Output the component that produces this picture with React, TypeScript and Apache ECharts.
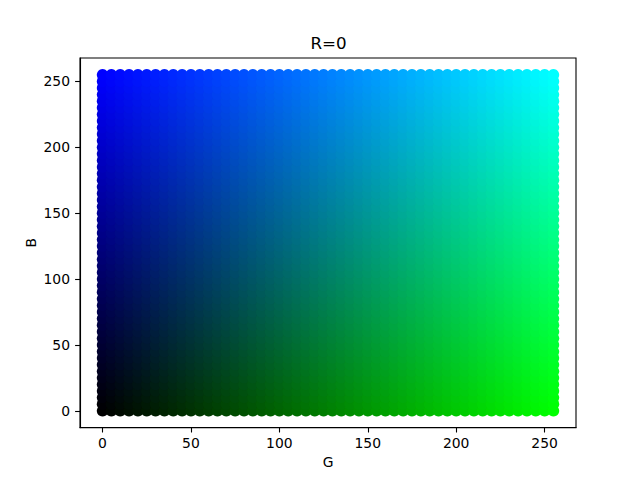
import React, { useEffect, useRef } from "react";
import * as echarts from "echarts";

const gValues = [0,5,10,15,20,25,30,35,40,45,50,55,60,65,70,75,80,85,90,95,100,105,110,115,120,125,130,135,140,145,150,155,160,165,170,175,180,185,190,195,200,205,210,215,220,225,230,235,240,245,250,255];
const bValues = [0,5,10,15,20,25,30,35,40,45,50,55,60,65,70,75,80,85,90,95,100,105,110,115,120,125,130,135,140,145,150,155,160,165,170,175,180,185,190,195,200,205,210,215,220,225,230,235,240,245,250,255];
const tickValues = [0, 50, 100, 150, 200, 250];
const redValue = 0;
const chartTitle = "R=0";
const xName = "G";
const yName = "B";
const FONT = "DejaVu Sans";

function axis(name: string, nameGap: number, labelMargin: number, min: number, max: number) {
  return {
    type: "value" as const,
    name,
    nameLocation: "middle" as const,
    nameGap,
    nameMoveOverlap: false,
    nameTextStyle: { color: "#000", fontFamily: FONT, fontSize: 13.9 },
    min,
    max,
    axisLine: { show: true, onZero: false, lineStyle: { color: "#000", width: 1.1 } },
    axisTick: { show: true, length: 4.9, lineStyle: { color: "#000", width: 1.1 }, customValues: tickValues },
    axisLabel: { show: true, color: "#000", fontFamily: FONT, fontSize: 13.9, margin: labelMargin, customValues: tickValues, hideOverlap: false, showMinLabel: true, showMaxLabel: true },
    splitLine: { show: false },
  };
}

export default function App() {
  const ref = useRef<HTMLDivElement>(null);
  useEffect(() => {
    document.body.style.margin = "0";
    const chart = echarts.init(ref.current!, null, { renderer: "svg" });
    const points: number[][] = [];
    for (const g of gValues) for (const b of bValues) points.push([g, b]);
    chart.setOption({
      animation: false,
      backgroundColor: "#fff",
      title: {
        text: chartTitle,
        left: 305.5,
        top: 29,
        padding: 5,
        textStyle: { color: "#000", fontFamily: FONT, fontSize: 16.7, fontWeight: "normal" },
      },
      grid: { show: true, left: 80, top: 58, width: 496, height: 369.6, borderColor: "#000", borderWidth: 1.1, backgroundColor: "#fff", containLabel: false },
      xAxis: axis(xName, 27, 8.5, -12.75, 267.75),
      yAxis: axis(yName, 42, 10, -12.75, 267.75),
      series: [
        {
          type: "scatter",
          data: points,
          symbol: "circle",
          symbolSize: 11.5,
          silent: true,
          progressive: 0,
          large: false,
          clip: false,
          itemStyle: {
            opacity: 1,
            color: (p: any) => `rgb(${redValue},${p.value[0]},${p.value[1]})`,
          },
        },
      ],
    });
    return () => chart.dispose();
  }, []);
  return <div ref={ref} style={{ width: 640, height: 480, position: "absolute", left: 0, top: 0 }} />;
}
